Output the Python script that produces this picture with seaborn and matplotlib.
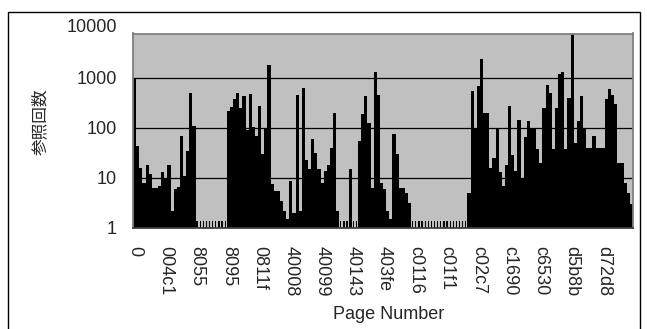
import pandas as pd
import seaborn as sns
import matplotlib.pyplot as plt
from matplotlib.patches import Rectangle
from matplotlib.ticker import NullLocator

# page labels shown under every 10th bar
tick_pages = ['0', '004c1', '8055', '8095', '0811f', '40008', '40099', '40143',
              '403fe', 'c0116', 'c01f1', 'c02c7', 'c1690', 'c6530', 'd5b8b', 'd72d8']
label_step = 10

# reference counts per page left to right
run_a = [930, 43, 16, 8, 18, 12, 6.3, 6.3, 7, 13,
         10, 18, 2.2, 6, 6.5, 68, 11, 34, 500, 108]
gap_a = [1.4, 1.4, 1.4, 1.4, 1.4, 1.4, 1.4, 1.4, 1.4, 1.4]
run_b = [220, 260, 370, 500, 250, 430, 90, 480, 105, 68,
         270, 30, 100, 1800, 7.4, 5.4, 5.4, 3.4, 2.2, 1.5,
         8.6, 2, 460, 2.2, 630, 23, 15, 61, 31, 15,
         8, 14, 18, 40, 200, 2.2, 1.4, 1.4, 1.4, 15,
         1.4, 1.4, 54, 185, 430, 125, 6.3, 1320, 460, 8,
         6, 2.2, 1.5, 76, 30, 6.3, 6.3, 5, 3.2, 1.4]
gap_b = [1.4, 1.4, 1.4, 1.4, 1.4, 1.4, 1.4, 1.4, 1.4, 1.4,
         1.4, 1.4, 1.4, 1.4, 1.4, 1.4, 1.4]
run_c = [5, 540, 100, 680, 2300, 200, 200, 16,
         25, 100, 13, 7, 18, 270, 29, 14, 140, 10,
         65, 135, 100, 100, 37, 20, 250, 720, 500, 37,
         250, 1160, 1320, 38, 400, 7500, 50, 135, 430, 100,
         40, 40, 70, 40, 40, 40, 370, 580, 460, 300,
         20, 20, 8, 5, 3]

counts = run_a + gap_a + run_b + gap_b + run_c
df = pd.DataFrame({'idx': range(len(counts)), 'refs': counts})

sns.set_theme(style='white')
plt.rcParams['font.family'] = ['Liberation Sans', 'Noto Sans CJK JP']

fig = plt.figure(figsize=(6.47, 3.29), dpi=100)
ax = fig.add_axes([133/647, 1 - 228/329, 500/647, 194.5/329])

sns.barplot(data=df, x='idx', y='refs', color='black', width=1, saturation=1,
            linewidth=0, errorbar=None, ax=ax)

# the 1-hit pages render as thin slivers (comb look) in the original
for p in ax.patches:
    if p.get_height() < 1.45:
        cx = p.get_x() + p.get_width() / 2
        p.set_width(0.4)
        p.set_x(cx - 0.2)

ax.set_yscale('log')
ax.set_ylim(1, 10**3.88)
ax.set_xlim(-0.5, len(counts) - 0.5)
ax.set_facecolor('#C0C0C0')

ax.set_yticks([1, 10, 100, 1000], ['1', '10', '100', '1000'])
ax.yaxis.set_minor_locator(NullLocator())
ax.text(-0.032, 10000, '10000', transform=ax.get_yaxis_transform(),
        ha='right', va='center', fontsize=13, clip_on=False)
ax.set_xticks(range(0, len(counts), label_step)[:len(tick_pages)], tick_pages,
              rotation=-90)
ax.tick_params(axis='x', length=0, pad=13, labelsize=13)
ax.tick_params(axis='y', length=0, pad=11.5, labelsize=13)

ax.grid(axis='y', color='black', lw=0.9)
for s in ax.spines.values():
    s.set_color('#808080')
    s.set_linewidth(1.3)
ax.spines['bottom'].set_color('#404040')

ax.set_ylabel('参照回数', fontsize=12, va='center')
ax.yaxis.set_label_coords(-0.186, 0.545)
ax.set_xlabel('Page Number', fontsize=13, va='center')
ax.xaxis.set_label_coords(0.512, -0.447)

# chart frame
fig.add_artist(Rectangle((8/647, -0.05), (640 - 8)/647, 1 - 11.5/329 + 0.05,
                         transform=fig.transFigure, fill=False, ec='black', lw=1.0))

fig.savefig('out.png', dpi=100)
plt.close(fig)
